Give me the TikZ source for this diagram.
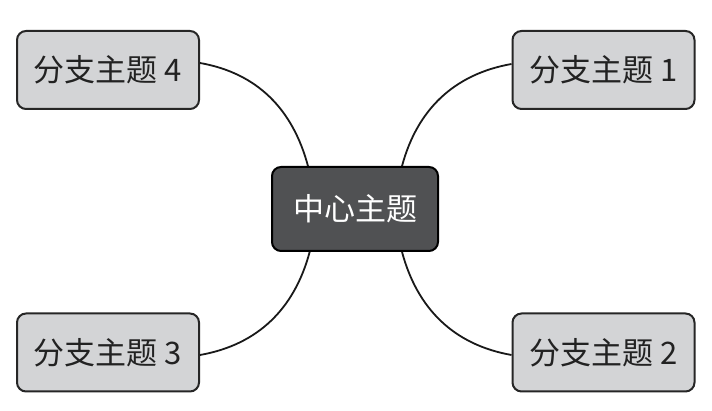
\documentclass[tikz,border=0pt]{standalone}
\usepackage{fontspec}
\setmainfont{Noto Sans CJK SC}
\usetikzlibrary{calc}
\definecolor{centerfill}{HTML}{505153}
\definecolor{branchfill}{HTML}{D3D4D6}
\definecolor{branchtext}{HTML}{222222}
\tikzset{
  centerbox/.style={draw=black, line width=2pt, fill=centerfill, rounded corners=9pt,
    minimum width=166pt, minimum height=84pt, inner sep=0pt, text=white,
    font=\fontsize{31}{31}\selectfont},
  branchbox/.style={draw=black!85, line width=2pt, fill=branchfill, rounded corners=9pt,
    minimum width=182pt, minimum height=78pt, inner sep=0pt, text=branchtext,
    font=\fontsize{31}{31}\selectfont},
  link/.style={draw=black!90, line width=1.8pt}
}
\begin{document}
\begin{tikzpicture}[x=1pt,y=1pt]
\useasboundingbox (0,0) rectangle (712,411);
\node[centerbox] (c) at (355,202) {中心主题};
\node[branchbox] (b1) at (603.5,341) {分支主题 1};
\node[branchbox] (b2) at (603.5,58.5) {分支主题 2};
\node[branchbox] (b3) at (108,58.5) {分支主题 3};
\node[branchbox] (b4) at (108,341) {分支主题 4};
\coordinate (ctl) at ($(c.north west)!0.22!(c.north east)$);
\coordinate (ctr) at ($(c.north west)!0.78!(c.north east)$);
\coordinate (cbl) at ($(c.south west)!0.23!(c.south east)$);
\coordinate (cbr) at ($(c.south west)!0.78!(c.south east)$);
\coordinate (e4) at ($(b4.east)+(0,7)$);
\coordinate (e1) at ($(b1.west)+(0,6)$);
\coordinate (e3) at ($(b3.east)+(0,-2.5)$);
\coordinate (e2) at ($(b2.west)+(0,-2.5)$);
\path[link] (ctl) to[out=105,in=-10] (e4);
\path[link] (ctr) to[out=75,in=190] (e1);
\path[link] (cbl) to[out=-105,in=10] (e3);
\path[link] (cbr) to[out=-75,in=170] (e2);
\end{tikzpicture}
\end{document}
